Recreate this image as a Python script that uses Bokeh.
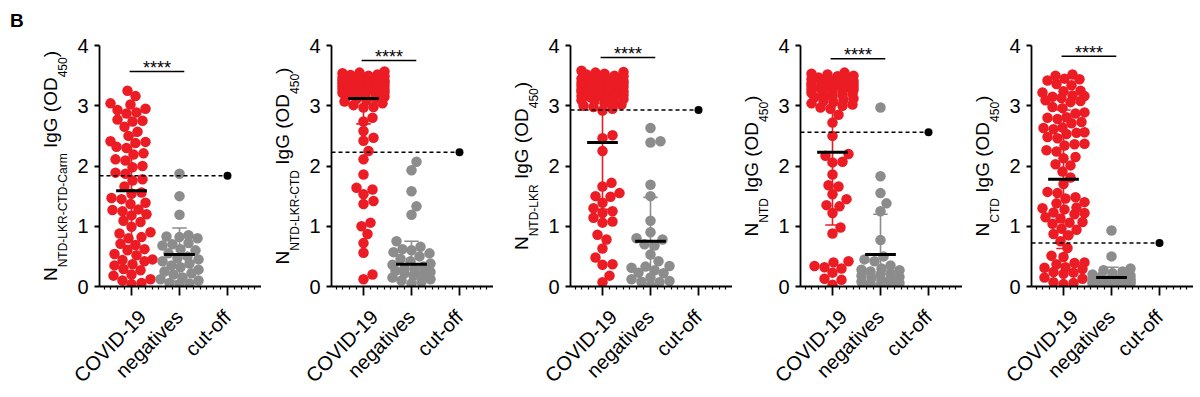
import math
from bokeh.plotting import figure
from bokeh.layouts import row
from bokeh.models import Range1d, FixedTicker, Label, Div
from bokeh.embed import file_html
from bokeh.resources import INLINE

# ---------------- data ----------------
CATEGORIES = ["COVID-19", "negatives", "cut-off"]
SUBSCRIPTS = ["NTD-LKR-CTD-Carm", "NTD-LKR-CTD", "NTD-LKR", "NTD", "CTD"]

covid_1 = [3.25, 3.16, 3.04, 3.02, 2.95, 2.93, 2.89, 2.87, 2.77, 2.75, 2.74, 2.65, 2.57,
           2.50, 2.41, 2.40, 2.38, 2.32, 2.30, 2.21, 2.19, 2.11, 2.09, 2.00, 1.98, 1.89,
           1.87, 1.78, 1.76, 1.66, 1.56, 1.54, 1.47, 1.45, 1.39, 1.37, 1.28, 1.27, 1.25,
           1.20, 1.18, 1.09, 1.07, 0.99, 0.90, 0.88, 0.82, 0.80, 0.71, 0.69, 0.62, 0.60,
           0.54, 0.52, 0.45, 0.44, 0.42, 0.37, 0.35, 0.29, 0.27, 0.20, 0.18, 0.12, 0.10,
           0.06, 0.04]
neg_1 = [1.87, 1.50, 1.19, 0.85, 0.83, 0.82, 0.80, 0.72, 0.70, 0.68, 0.62, 0.60, 0.55,
         0.50, 0.47, 0.45, 0.42, 0.38, 0.35, 0.32, 0.28, 0.25, 0.22, 0.20, 0.15, 0.12,
         0.10, 0.06, 0.05, 0.04]

covid_2 = [3.57, 3.55, 3.54, 3.52, 3.51, 3.50, 3.49, 3.48, 3.47, 3.46, 3.45, 3.44, 3.43,
           3.42, 3.42, 3.41, 3.40, 3.39, 3.38, 3.38, 3.37, 3.36, 3.35, 3.34, 3.33, 3.32,
           3.32, 3.31, 3.30, 3.29, 3.28, 3.27, 3.26, 3.25, 3.24, 3.23, 3.22, 3.21, 3.20,
           3.19, 3.18, 3.16, 3.15, 3.13, 3.11, 3.09, 3.07, 3.04, 3.01, 2.98,
           2.97, 2.80, 2.74, 2.58, 2.47, 2.42, 2.25, 2.11, 1.86, 1.64, 1.61, 1.53, 1.42,
           1.37, 1.06, 1.00, 0.87, 0.72, 0.56, 0.20, 0.12]
neg_2 = [2.07, 1.93, 1.58, 1.33, 1.19, 0.75, 0.66, 0.62, 0.60, 0.57, 0.55, 0.50, 0.46,
         0.42, 0.38, 0.36, 0.33, 0.30, 0.29, 0.26, 0.24, 0.22, 0.20, 0.18, 0.15, 0.12,
         0.10, 0.08, 0.05]

covid_3 = [3.58, 3.56, 3.55, 3.53, 3.52, 3.50, 3.49, 3.47, 3.46, 3.45, 3.44, 3.42, 3.41,
           3.40, 3.39, 3.38, 3.37, 3.36, 3.35, 3.34, 3.33, 3.32, 3.31, 3.30, 3.29, 3.28,
           3.27, 3.26, 3.25, 3.24, 3.23, 3.22, 3.21, 3.20, 3.19, 3.18, 3.17, 3.16, 3.15,
           3.14, 3.12, 3.11, 3.09, 3.08, 3.06, 3.04, 3.02, 3.00, 2.98,
           2.95, 2.92, 2.51, 2.46, 2.25, 1.72, 1.66, 1.55, 1.50, 1.49, 1.39, 1.30, 1.25,
           1.22, 1.14, 1.08, 1.06, 0.86, 0.78, 0.63, 0.48, 0.37, 0.36, 0.18, 0.07]
neg_3 = [2.63, 2.41, 2.39, 1.69, 1.50, 1.09, 0.90, 0.80, 0.78, 0.70, 0.68, 0.53, 0.42,
         0.34, 0.33, 0.31, 0.27, 0.23, 0.22, 0.15, 0.12, 0.09, 0.08, 0.07, 0.01]

covid_4 = [3.55, 3.53, 3.52, 3.50, 3.49, 3.47, 3.46, 3.45, 3.44, 3.42, 3.41, 3.40, 3.39,
           3.38, 3.37, 3.36, 3.35, 3.34, 3.33, 3.32, 3.31, 3.30, 3.29, 3.28, 3.27, 3.26,
           3.25, 3.24, 3.22, 3.21, 3.20, 3.18, 3.17, 3.15, 3.14, 3.12, 3.10, 3.08, 3.06,
           3.04, 3.02, 3.00, 2.97, 2.95,
           2.85, 2.72, 2.50, 2.20, 2.17, 2.07, 2.06, 1.86, 1.68, 1.66, 1.53, 1.45, 1.35,
           1.33, 1.22, 0.98, 0.88, 0.42, 0.40, 0.34, 0.32, 0.30, 0.23, 0.13, 0.11, 0.03]
neg_4 = [2.97, 1.83, 1.55, 1.38, 1.25, 0.77, 0.50, 0.45, 0.42, 0.35, 0.30, 0.28, 0.27,
         0.25, 0.22, 0.20, 0.18, 0.16, 0.14, 0.12, 0.10, 0.08, 0.06, 0.05, 0.03, 0.02]

covid_5 = [3.52, 3.50, 3.45, 3.44, 3.42, 3.36, 3.34, 3.25, 3.24, 3.22, 3.17, 3.16, 3.15,
           3.13, 3.09, 3.08, 3.06, 2.98, 2.96, 2.89, 2.87, 2.81, 2.80, 2.78, 2.73, 2.71,
           2.64, 2.63, 2.61, 2.56, 2.55, 2.53, 2.48, 2.46, 2.37, 2.36, 2.34, 2.26, 2.24,
           2.15, 2.13, 2.03, 2.01, 1.91, 1.81, 1.70, 1.57, 1.55, 1.48, 1.46, 1.40, 1.38,
           1.31, 1.30, 1.28, 1.23, 1.22, 1.20, 1.15, 1.13, 1.07, 1.06, 1.04, 0.96, 0.94,
           0.87, 0.85, 0.75, 0.64, 0.51, 0.49, 0.40, 0.39, 0.37, 0.32, 0.31, 0.29, 0.24,
           0.23, 0.21, 0.15, 0.13, 0.07, 0.06, 0.04]
neg_5 = [0.93, 0.50, 0.30, 0.27, 0.25, 0.22, 0.20, 0.18, 0.17, 0.15, 0.14, 0.13, 0.12,
         0.11, 0.10, 0.10, 0.09, 0.08, 0.08, 0.07, 0.06, 0.05, 0.05, 0.04, 0.03, 0.02]

COVID = [covid_1, covid_2, covid_3, covid_4, covid_5]
NEGATIVES = [neg_1, neg_2, neg_3, neg_4, neg_5]
CUTOFF = [1.84, 2.23, 2.93, 2.56, 0.72]
COVID_MEAN = [1.59, 3.12, 2.39, 2.23, 1.78]
COVID_SD = [0.91, 0.42, 1.11, 1.21, 1.15]
NEG_MEAN = [0.53, 0.37, 0.75, 0.53, 0.15]
NEG_SD = [0.44, 0.38, 0.73, 0.67, 0.17]
SIG_TEXT = "****"
PANEL_LETTER = "B"
Y_TICKS = [0, 1, 2, 3, 4]

# ---------------- layout / style ----------------
RED = "#EC1C24"
GREY = "#8C8C8C"
BLACK = "#000000"
FONT = "Liberation Sans"

AXIS_X = [99, 331, 570, 800, 1031]      # page x of each y-axis
FRAME_W, FRAME_H = 162, 242
TOP, BOTTOM = 45, 110
PANEL_LEFT = 30
FIG_H = TOP + FRAME_H + BOTTOM
PX_PER_CAT = 48.0
X_START = 1 - 32 / PX_PER_CAT
X_END = X_START + FRAME_W / PX_PER_CAT
Y_START, Y_END = 0.0, 4.0
PPU_Y = FRAME_H / (Y_END - Y_START)
SIG_Y = [3.57, 3.75, 3.80, 3.78, 3.82]
SIG_X = (0.96, 2.10)
TICK_FONT = "20px"
XLABEL_FONT = "20px"
TITLE_SIZE, SUB_SIZE, SUB_DROP, TITLE_GAP = 19, 12, 10, 42
BASELINE_IN_LINE = 16.1   # baseline depth inside a 19px line box (Liberation Sans)


def swarm(vals, maxw, d=9.6):
    """Deterministic beeswarm offsets (in category units) computed from the values."""
    order = sorted(range(len(vals)), key=lambda k: vals[k])
    cands = [0]
    for k in range(1, maxw + 1):
        cands += [k, -k]
    placed = []
    offs = [0.0] * len(vals)
    for i in order:
        y = vals[i] * PPU_Y
        near = [(px, py) for px, py in placed if abs(py - y) < d]
        best, best_ov = 0, None
        for c in cands:
            ov = 0.0
            for px, py in near:
                dist = math.hypot(px - c, py - y)
                if dist < d:
                    ov += d - dist
            if ov == 0:
                best = c
                break
            if best_ov is None or ov < best_ov:
                best_ov, best = ov, c
        offs[i] = best
        placed.append((best, y))
    return [o / PX_PER_CAT for o in offs]


def make_title_strip(i, x0):
    """HTML strip with the rotated y-axis title (real text with subscripts)."""
    w = AXIS_X[i] - PANEL_LEFT - x0
    left = AXIS_X[i] - TITLE_GAP - x0 - BASELINE_IN_LINE
    top = TOP + FRAME_H
    sub = (f"font-size:{SUB_SIZE}px;position:relative;top:{SUB_DROP}px;")
    font = f"font-family:'{FONT}',Arial,sans-serif;color:#000;"
    title = (f"<div style=\"position:absolute;left:{left:.1f}px;top:{top}px;"
             f"width:{FRAME_H}px;height:{TITLE_SIZE}px;line-height:{TITLE_SIZE}px;"
             f"font-size:{TITLE_SIZE}px;{font}text-align:center;white-space:nowrap;"
             f"transform-origin:0 0;transform:rotate(-90deg);\">"
             f"N<span style=\"{sub}\">{SUBSCRIPTS[i]}</span> IgG (OD"
             f"<span style=\"{sub}\">450</span>)</div>")
    letter = ""
    if i == 0:
        letter = (f"<div style=\"position:absolute;left:{10 - x0}px;"
                  f"top:{27 - BASELINE_IN_LINE:.1f}px;line-height:{TITLE_SIZE}px;"
                  f"font-size:{TITLE_SIZE}px;font-weight:bold;{font}\">{PANEL_LETTER}</div>")
    html = (f"<div style=\"position:relative;width:{w}px;height:{FIG_H}px;"
            f"overflow:visible;\">{title}{letter}</div>")
    return Div(text=html, width=w, height=FIG_H, margin=(0, 0, 0, 0),
               styles={"overflow": "visible"})


def make_panel(i):
    p = figure(width=PANEL_LEFT + FRAME_W, height=FIG_H, title=None,
               x_range=Range1d(X_START, X_END), y_range=Range1d(Y_START, Y_END),
               output_backend="svg", toolbar_location=None,
               min_border_left=PANEL_LEFT, min_border_right=0,
               min_border_top=TOP, min_border_bottom=BOTTOM)
    p.xgrid.visible = False
    p.ygrid.visible = False
    p.outline_line_color = None

    cov, neg = COVID[i], NEGATIVES[i]
    xc = [1 + o for o in swarm(cov, 21)]
    xn = [2 + o for o in swarm(neg, 19)]
    p.scatter(xc, cov, size=10.5, fill_color=RED, line_color=None)
    p.scatter(xn, neg, size=10.5, fill_color=GREY, line_color=None)

    # error bars (mean +/- SD) and mean lines
    for xpos, m, sd, col in ((1, COVID_MEAN[i], COVID_SD[i], RED),
                             (2, NEG_MEAN[i], NEG_SD[i], GREY)):
        lo, hi = max(m - sd, 0.0), m + sd
        p.segment(x0=[xpos], y0=[lo], x1=[xpos], y1=[hi], line_color=col, line_width=1.6)
        caps_y = [hi] + ([lo] if lo > 0 else [])
        p.segment(x0=[xpos - 0.15] * len(caps_y), y0=caps_y,
                  x1=[xpos + 0.15] * len(caps_y), y1=caps_y,
                  line_color=col, line_width=1.6)
        p.segment(x0=[xpos - 0.32], y0=[m], x1=[xpos + 0.32], y1=[m],
                  line_color=BLACK, line_width=3)

    # cut-off
    p.segment(x0=[X_START], y0=[CUTOFF[i]], x1=[3], y1=[CUTOFF[i]],
              line_color=BLACK, line_width=1.5, line_dash="4 3")
    p.scatter([3], [CUTOFF[i]], size=8, fill_color=BLACK, line_color=None)

    # significance
    p.segment(x0=[SIG_X[0]], y0=[SIG_Y[i]], x1=[SIG_X[1]], y1=[SIG_Y[i]],
              line_color=BLACK, line_width=1.5)
    p.add_layout(Label(x=(SIG_X[0] + SIG_X[1]) / 2, y=SIG_Y[i] + 3.5 / PPU_Y,
                       text=SIG_TEXT, text_align="center", text_baseline="alphabetic",
                       text_font=FONT, text_font_size="18px", text_color=BLACK))

    # axes
    xa = p.xaxis[0]
    minor = [k / 7 for k in range(math.ceil(X_START * 7), math.floor(X_END * 7) + 1)
             if k % 7 != 0]
    xa.ticker = FixedTicker(ticks=[1, 2, 3], minor_ticks=minor)
    xa.major_label_overrides = {1: CATEGORIES[0], 2: CATEGORIES[1], 3: CATEGORIES[2]}
    xa.major_label_orientation = math.pi / 4
    xa.major_label_text_font = FONT
    xa.major_label_text_font_size = XLABEL_FONT
    xa.major_label_text_color = BLACK
    xa.axis_line_width = 1.8
    xa.axis_line_color = BLACK
    xa.major_tick_line_width = 1.8
    xa.major_tick_line_color = BLACK
    xa.major_tick_in = 0
    xa.major_tick_out = 9
    xa.minor_tick_in = 0
    xa.minor_tick_out = 3
    xa.minor_tick_line_width = 1.2
    xa.minor_tick_line_color = BLACK
    xa.major_label_standoff = 18

    ya = p.yaxis[0]
    ya.ticker = FixedTicker(ticks=Y_TICKS)
    ya.major_label_text_font = FONT
    ya.major_label_text_font_size = TICK_FONT
    ya.major_label_text_color = BLACK
    ya.axis_line_width = 1.8
    ya.axis_line_color = BLACK
    ya.major_tick_line_width = 1.8
    ya.major_tick_line_color = BLACK
    ya.major_tick_in = 0
    ya.major_tick_out = 5
    ya.minor_tick_line_color = None
    ya.major_label_standoff = 6
    return p


children = []
x0 = 0
for i in range(5):
    children.append(make_title_strip(i, x0))
    children.append(make_panel(i))
    x0 = AXIS_X[i] + FRAME_W

layout = row(*children)
open("out.html", "w").write(file_html(layout, INLINE))
